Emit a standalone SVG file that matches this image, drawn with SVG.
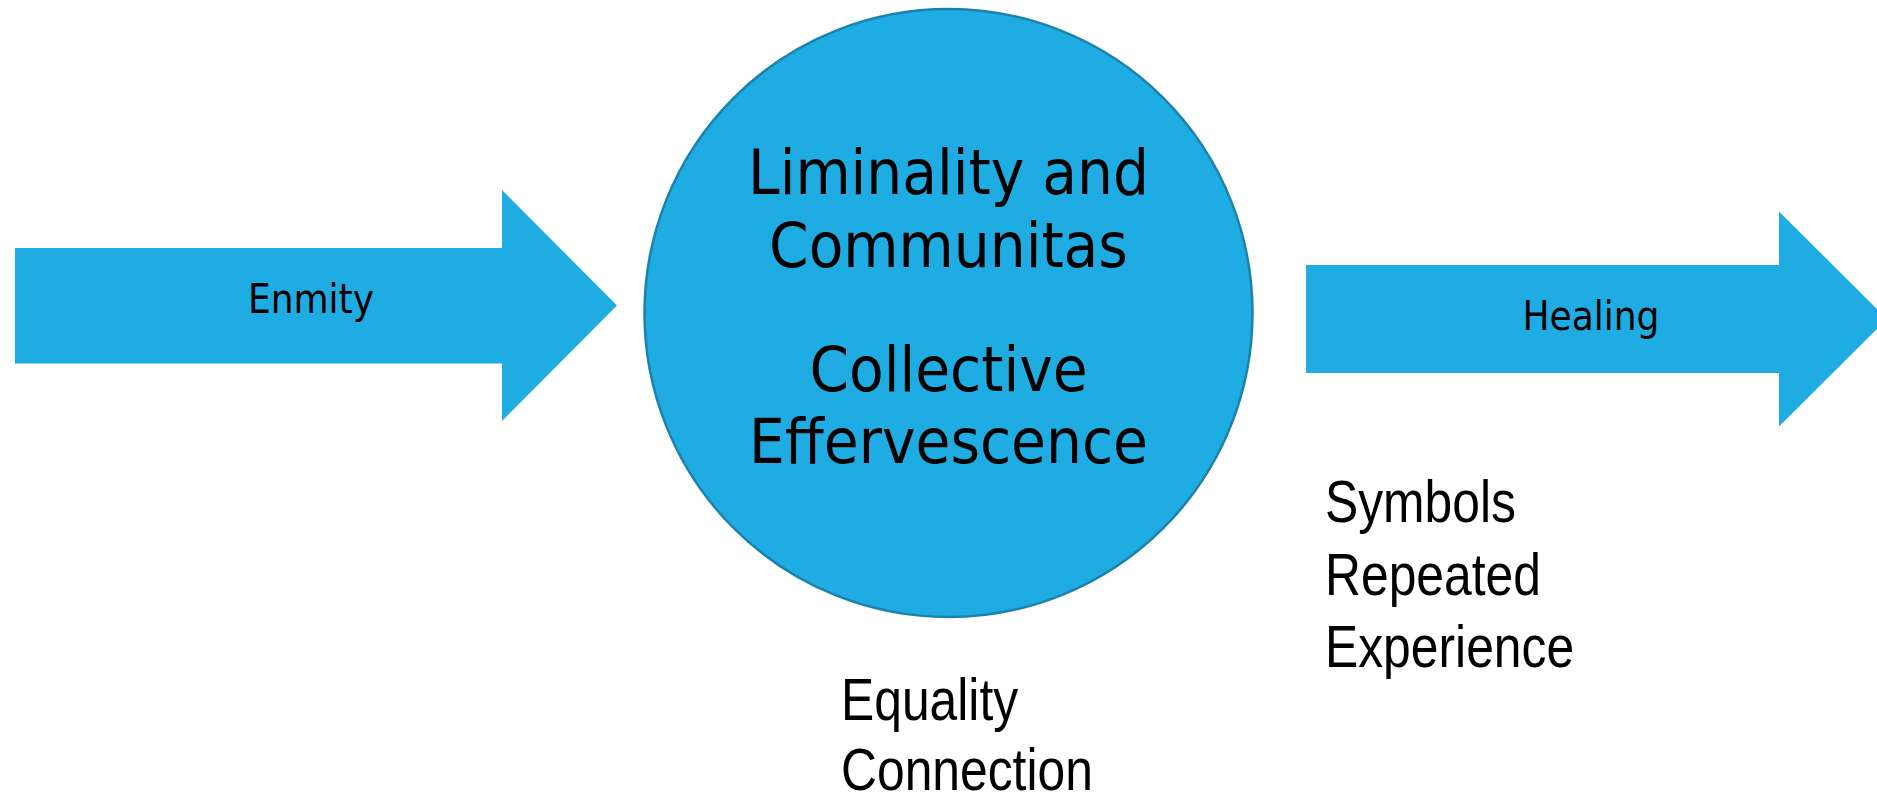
<svg xmlns="http://www.w3.org/2000/svg" width="1877" height="797" viewBox="0 0 1877 797">
<style>
.shape{fill:#1FACE2;}
.circ{fill:#1FACE2;stroke:#1B82AC;stroke-width:2.5;}
.lbl{font-family:"DejaVu Sans Condensed","DejaVu Sans",sans-serif;fill:#000;text-anchor:middle;}
.big{font-size:63px;}
.arr{font-size:40px;}
.side{font-family:"Liberation Sans",Arial,sans-serif;font-size:60px;fill:#000;}
</style>
<rect x="0" y="0" width="1877" height="797" fill="#ffffff"/>
<g id="connectors">
  <g id="arrow-enmity">
    <polygon class="shape" points="15,248 502,248 502,190 617,305.5 502,421 502,363.5 15,363.5"/>
    <text class="lbl arr" x="311" y="313">Enmity</text>
  </g>
  <g id="arrow-healing">
    <polygon class="shape" points="1306,265 1779,265 1779,211.5 1887,319 1779,426.5 1779,373 1306,373"/>
    <text class="lbl arr" x="1591" y="330">Healing</text>
  </g>
</g>
<g id="node-center">
  <circle class="circ" cx="948.5" cy="313" r="304"/>
  <text class="lbl big" x="948.5" y="193.5">Liminality and</text>
  <text class="lbl big" x="948.5" y="266.5">Communitas</text>
  <text class="lbl big" x="948.5" y="391">Collective</text>
  <text class="lbl big" x="948.5" y="463">Effervescence</text>
</g>
<g id="node-bottom">
  <text class="side" transform="translate(841,720) scale(0.83,1)">Equality</text>
  <text class="side" transform="translate(841,790) scale(0.83,1)">Connection</text>
</g>
<g id="node-right">
  <text class="side" transform="translate(1325,522) scale(0.83,1)">Symbols</text>
  <text class="side" transform="translate(1325,595) scale(0.83,1)">Repeated</text>
  <text class="side" transform="translate(1325,667) scale(0.83,1)">Experience</text>
</g>
</svg>
